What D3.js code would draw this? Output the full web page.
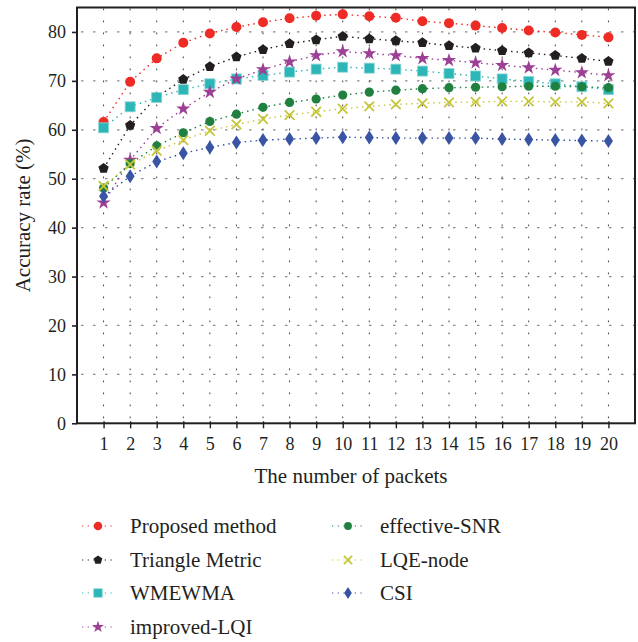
<!DOCTYPE html>
<html>
<head>
<meta charset="utf-8">
<script src="https://cdn.jsdelivr.net/npm/d3@7/dist/d3.min.js"></script>
<style>
  html, body { margin: 0; padding: 0; background: #fff; }
  svg { display: block; }
  text { font-family: "Liberation Serif", "DejaVu Serif", serif; fill: #231f20; }
</style>
</head>
<body>
<svg id="chart" width="638" height="642"></svg>
<script>
// Number of packets on the x axis
const packets = [1, 2, 3, 4, 5, 6, 7, 8, 9, 10, 11, 12, 13, 14, 15, 16, 17, 18, 19, 20];
const yTicks = [0, 10, 20, 30, 40, 50, 60, 70, 80];

// Accuracy rate (%) per method
const proposedMethod = [61.6, 69.8, 74.6, 77.8, 79.7, 81.0, 82.0, 82.8, 83.3, 83.6, 83.2, 82.9, 82.2, 81.8, 81.3, 80.8, 80.3, 79.9, 79.4, 78.9];
const triangleMetric = [52.1, 60.9, 66.7, 70.3, 72.9, 74.9, 76.4, 77.6, 78.4, 79.1, 78.6, 78.2, 77.8, 77.2, 76.7, 76.2, 75.7, 75.2, 74.6, 74.0];
const wmewma         = [60.4, 64.7, 66.6, 68.2, 69.4, 70.4, 71.1, 71.8, 72.4, 72.8, 72.6, 72.4, 72.0, 71.5, 71.0, 70.4, 69.9, 69.4, 68.8, 68.2];
const improvedLQI    = [45.1, 53.8, 60.3, 64.3, 67.7, 70.4, 72.3, 73.9, 75.2, 76.0, 75.6, 75.2, 74.6, 74.2, 73.7, 73.2, 72.7, 72.2, 71.7, 71.1];
const effectiveSNR   = [48.1, 53.1, 56.7, 59.4, 61.7, 63.2, 64.6, 65.6, 66.3, 67.1, 67.7, 68.1, 68.4, 68.6, 68.7, 68.8, 68.9, 68.9, 68.8, 68.6];
const lqeNode        = [48.5, 52.9, 55.7, 57.9, 59.8, 61.1, 62.2, 63.0, 63.7, 64.3, 64.8, 65.2, 65.4, 65.6, 65.7, 65.8, 65.8, 65.7, 65.7, 65.4];
const csi            = [46.4, 50.5, 53.5, 55.2, 56.4, 57.4, 57.9, 58.1, 58.3, 58.5, 58.4, 58.3, 58.3, 58.3, 58.3, 58.1, 58.0, 57.9, 57.8, 57.7];

const seriesNames  = ["Proposed method", "Triangle Metric", "WMEWMA", "improved-LQI", "effective-SNR", "LQE-node", "CSI"];
const seriesValues = [proposedMethod, triangleMetric, wmewma, improvedLQI, effectiveSNR, lqeNode, csi];
const seriesColors = ["#ee2b24", "#231f20", "#2cb6b8", "#9c3f95", "#1f8040", "#c6c63a", "#3a54a4"];
const seriesMarks  = ["circle", "pentagon", "square", "star", "dot", "x", "diamond"];

const svg = d3.select("#chart");
const plot = { left: 77, right: 635, top: 7.5, bottom: 423.3 };

const x = d3.scaleLinear().domain([0, 21]).range([plot.left, plot.right]);
const y = d3.scaleLinear().domain([0, 85]).range([plot.bottom, plot.top]);

// Grid: gray dashed horizontals, dark dotted verticals
const grid = svg.append("g");
grid.selectAll("line.h").data(yTicks.slice(1)).join("line")
  .attr("x1", plot.left).attr("x2", plot.right)
  .attr("y1", d => y(d)).attr("y2", d => y(d))
  .attr("stroke", "#8a8a8a").attr("stroke-width", 1.2)
  .attr("stroke-dasharray", "2.5,9.5").attr("stroke-dashoffset", -4);
grid.selectAll("line.v").data(packets).join("line")
  .attr("x1", d => x(d)).attr("x2", d => x(d))
  .attr("y1", plot.bottom).attr("y2", plot.top)
  .attr("stroke", "#444").attr("stroke-width", 1)
  .attr("stroke-dasharray", "1.8,10.2").attr("stroke-dashoffset", -5);

// Marker shapes
function pentagonPath(r) {
  const pts = d3.range(5).map(k => {
    const a = -Math.PI / 2 + k * 2 * Math.PI / 5;
    return [r * Math.cos(a), r * Math.sin(a)];
  });
  return "M" + pts.map(p => p.join(",")).join("L") + "Z";
}
function diamondPath(w, h) {
  return `M0,${-h / 2}L${w / 2},0L0,${h / 2}L${-w / 2},0Z`;
}
function drawMarker(g, type, color, s) {
  if (type === "circle") {
    g.append("circle").attr("r", 5 * s).attr("fill", color);
  } else if (type === "dot") {
    g.append("circle").attr("r", 4.6 * s).attr("fill", color);
  } else if (type === "pentagon") {
    g.append("path").attr("d", pentagonPath(5.4 * s)).attr("fill", color);
  } else if (type === "square") {
    g.append("rect").attr("x", -5 * s).attr("y", -5 * s).attr("width", 10 * s).attr("height", 10 * s)
      .attr("fill", color).attr("stroke", "#8fd6d6").attr("stroke-width", 0.8);
  } else if (type === "star") {
    g.append("path").attr("d", d3.symbol(d3.symbolStar, 62 * s * s)()).attr("fill", color);
  } else if (type === "x") {
    const r = 4.8 * s;
    g.append("path").attr("d", `M${-r},${-r}L${r},${r}M${-r},${r}L${r},${-r}`)
      .attr("stroke", color).attr("stroke-width", 1.8).attr("fill", "none");
  } else if (type === "diamond") {
    g.append("path").attr("d", diamondPath(9 * s, 14 * s)).attr("fill", color);
  }
}

// Series lines and markers
const line = d3.line().x((d, i) => x(packets[i])).y(d => y(d));
seriesValues.forEach((vals, si) => {
  const g = svg.append("g");
  g.append("path").datum(vals).attr("d", line)
    .attr("fill", "none").attr("stroke", seriesColors[si])
    .attr("stroke-width", 1.4).attr("stroke-dasharray", "1.5,4");
  vals.forEach((v, i) => {
    const m = g.append("g").attr("transform", `translate(${x(packets[i])},${y(v)})`);
    drawMarker(m, seriesMarks[si], seriesColors[si], 1);
  });
});

// Axes
const yAxis = d3.axisLeft(y).tickValues(yTicks).tickSize(5).tickPadding(6).tickSizeOuter(0);
const gy = svg.append("g").attr("transform", `translate(${plot.left},0)`).call(yAxis);
gy.select(".domain").remove();
gy.selectAll(".tick line").attr("stroke", "#231f20").attr("stroke-width", 1.6);
gy.selectAll(".tick text").attr("font-size", 18).attr("font-family", "Liberation Serif").attr("fill", "#231f20");

const xAxis = d3.axisBottom(x).tickValues(packets).tickSize(5).tickPadding(9).tickSizeOuter(0);
const gx = svg.append("g").attr("transform", `translate(0,${plot.bottom})`).call(xAxis);
gx.select(".domain").remove();
gx.selectAll(".tick line").attr("stroke", "#231f20").attr("stroke-width", 1.4).attr("y1", -2);
gx.selectAll(".tick text").attr("font-size", 18).attr("font-family", "Liberation Serif").attr("fill", "#231f20");

// Frame
svg.append("rect")
  .attr("x", plot.left).attr("y", plot.top)
  .attr("width", plot.right - plot.left).attr("height", plot.bottom - plot.top)
  .attr("fill", "none").attr("stroke", "#231f20").attr("stroke-width", 2);

// Axis titles
svg.append("text").attr("x", (plot.left + plot.right) / 2 - 5).attr("y", 483)
  .attr("text-anchor", "middle").attr("font-size", 21).text("The number of packets");
svg.append("text").attr("transform", `translate(30,${(plot.top + plot.bottom) / 2}) rotate(-90)`)
  .attr("text-anchor", "middle").attr("font-size", 21).text("Accuracy rate (%)");

// Legend: two columns
const legendPos = [
  [82, 526], [82, 560], [82, 593], [82, 627],
  [332, 526], [332, 560], [332, 593]
];
seriesNames.forEach((name, si) => {
  const [lx, ly] = legendPos[si];
  const g = svg.append("g").attr("transform", `translate(${lx},${ly})`);
  g.append("line").attr("x1", 0).attr("x2", 31).attr("y1", 0).attr("y2", 0)
    .attr("stroke", seriesColors[si]).attr("stroke-width", 1.2).attr("stroke-dasharray", "1.2,4.5");
  const m = g.append("g").attr("transform", "translate(16,0)");
  drawMarker(m, seriesMarks[si], seriesColors[si], 0.85);
  g.append("text").attr("x", 48).attr("y", 0).attr("dy", "0.35em")
    .attr("font-size", 21).text(name);
});
</script>
</body>
</html>
